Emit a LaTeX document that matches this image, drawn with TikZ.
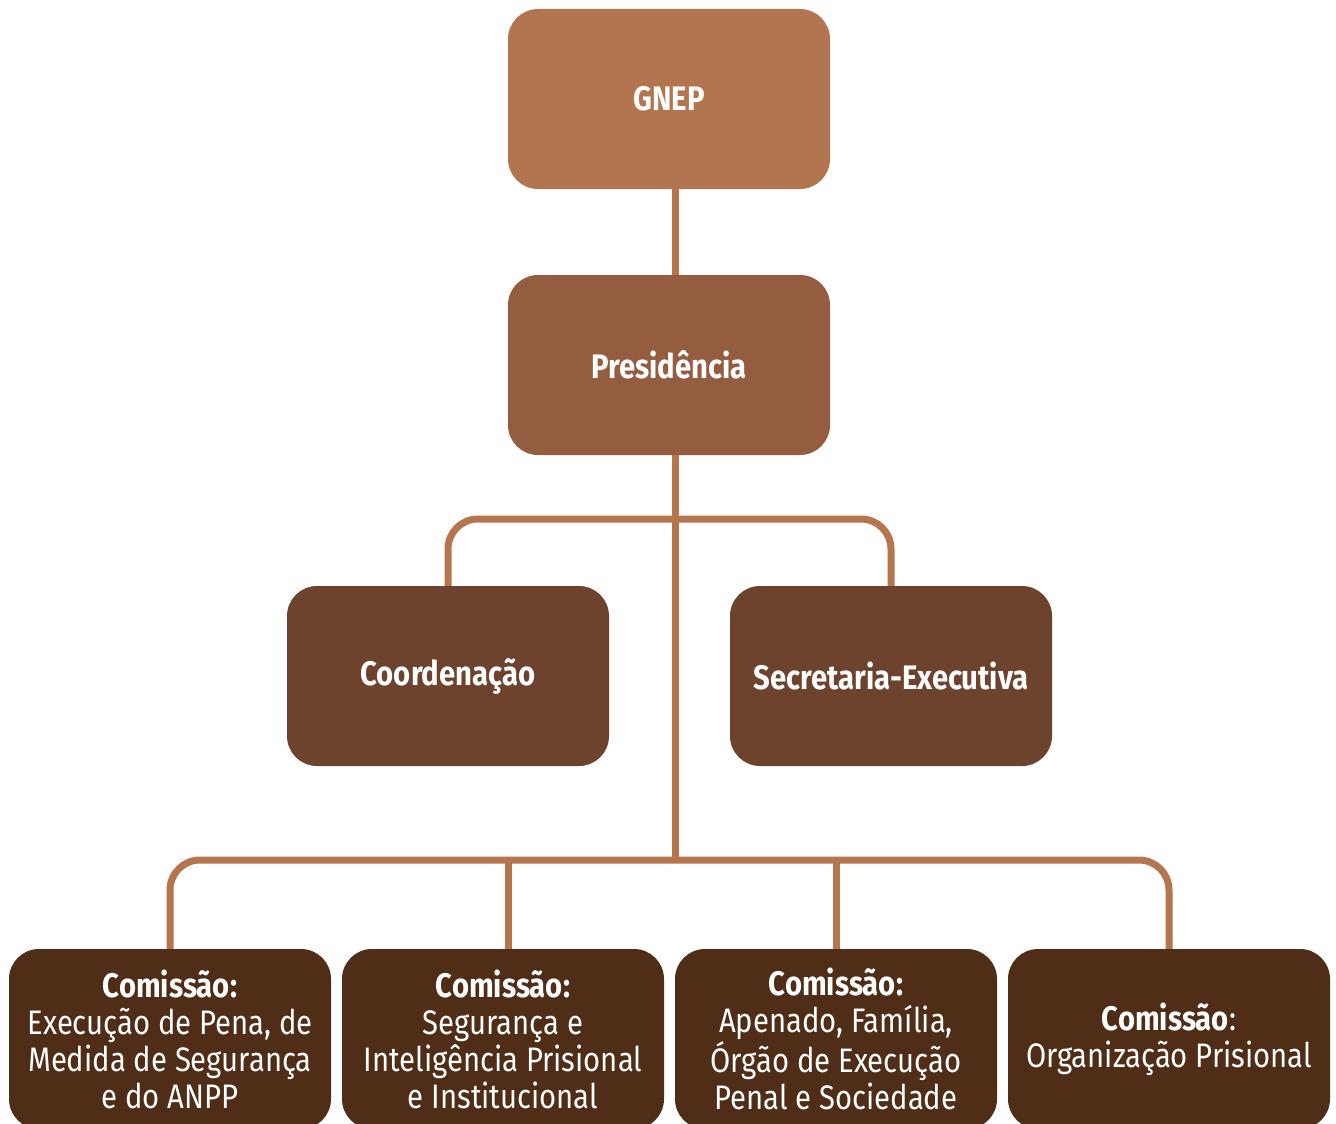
\documentclass[tikz,border=0pt]{standalone}
\usepackage{fontspec}
\setmainfont[FakeStretch=0.86]{Fira Sans}
\definecolor{cA}{HTML}{B37550}
\definecolor{cB}{HTML}{945D3F}
\definecolor{cC}{HTML}{6D432D}
\definecolor{cD}{HTML}{4F2D17}
\definecolor{cL}{HTML}{B5754F}
\begin{document}
\begin{tikzpicture}[x=1pt,y=-1pt,
  box/.style={rectangle, rounded corners=30pt, minimum width=322pt, minimum height=180pt, inner sep=0pt, text=white, align=center, font=\fontsize{34}{37}\selectfont},
  topbox/.style={box, font=\fontsize{34}{37}\selectfont\bfseries},
  conn/.style={draw=cL, line width=7pt, rounded corners=30pt}]
\useasboundingbox (0,0) rectangle (1336,1124);
\fill[white] (0,0) rectangle (1336,1124);
\node[topbox, fill=cA] (gnep) at (669,99) {GNEP};
\node[topbox, fill=cB] (pres) at (669,365) {Presidência};
\node[topbox, fill=cC] (coord) at (448,676) {Coordenação};
\node[topbox, fill=cC] (sec) at (891,676) {Secretaria-Executiva};
\node[box, fill=cD, minimum height=180pt] (c1) at (170,1039) {\textbf{Comissão:}\\Execução de Pena, de\\Medida de Segurança\\e do ANPP};
\node[box, fill=cD, minimum height=180pt] (c2) at (503,1039) {\textbf{Comissão:}\\Segurança e\\Inteligência Prisional\\e Institucional};
\node[box, fill=cD, minimum height=180pt] (c3) at (836,1039) {\textbf{Comissão:}\\Apenado, Família,\\Órgão de Execução\\Penal e Sociedade};
\node[box, fill=cD, minimum height=180pt] (c4) at (1169,1039) {\textbf{Comissão}:\\Organização Prisional};
\coordinate (t) at (675,0);
\coordinate (ub) at (675,519);
\coordinate (lb) at (675,860);
\coordinate (x2) at (508,0);
\coordinate (x3) at (836,0);
\draw[conn] (gnep.south -| t) -- (pres.north -| t);
\draw[conn] (pres.south -| t) -- (lb);
\draw[conn] (coord.north) |- (ub) -| (sec.north);
\draw[conn] (c1.north) |- (lb) -| (c4.north);
\draw[conn] (lb -| x2) -- (c2.north -| x2);
\draw[conn] (lb -| x3) -- (c3.north -| x3);
\end{tikzpicture}
\end{document}
